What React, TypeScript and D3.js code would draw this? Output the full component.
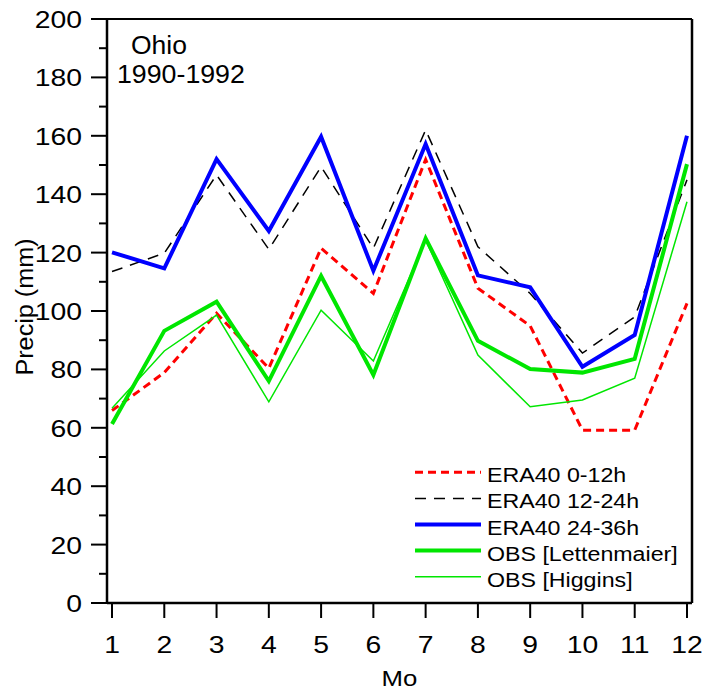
import React from "react";
import * as d3 from "d3";

const months = [1, 2, 3, 4, 5, 6, 7, 8, 9, 10, 11, 12];
const era0to12 = [65.9, 78.9, 99.2, 80.4, 121.5, 106, 151.9, 107.8, 94.9, 59.2, 59.2, 102.6];
const era12to24 = [113.5, 119.8, 146.6, 121.1, 149.4, 121.5, 162, 122, 106, 85.6, 98, 144.9];
const era24to36 = [120.1, 114.6, 152, 127.4, 159.7, 113.8, 157.2, 112.2, 108.1, 80.9, 91.8, 160];
const obsLettenmaier = [61.3, 93.2, 103.2, 76, 112, 78.1, 124.9, 89.8, 80.1, 78.9, 83.6, 150.3];
const obsHiggins = [66.7, 86.3, 98.6, 68.9, 100.3, 82.9, 124.3, 84.9, 67.2, 69.5, 77, 137.4];
const yMajorTicks = [0, 20, 40, 60, 80, 100, 120, 140, 160, 180, 200];
const yMinorTicks = [10, 30, 50, 70, 90, 110, 130, 150, 170, 190];
const seriesNames = ["ERA40 0-12h", "ERA40 12-24h", "ERA40 24-36h", "OBS [Lettenmaier]", "OBS [Higgins]"];

const FONT = "'Liberation Sans', Arial, Helvetica, sans-serif";

export default function App() {
  const left = 107, right = 692, top = 19, bottom = 603;
  const x = d3.scaleLinear().domain([0.904, 12.096]).range([left, right]);
  const y = d3.scaleLinear().domain([0, 200]).range([bottom, top]);
  const line = d3
    .line<number>()
    .x((_, i) => x(months[i]))
    .y((d) => y(d));

  const series = [
    { name: seriesNames[0], data: era0to12, color: "#ff0000", width: 3, dash: "8,5" },
    { name: seriesNames[1], data: era12to24, color: "#000000", width: 1.5, dash: "11,8" },
    { name: seriesNames[2], data: era24to36, color: "#0000ff", width: 4, dash: undefined },
    { name: seriesNames[3], data: obsLettenmaier, color: "#00e600", width: 4, dash: undefined },
    { name: seriesNames[4], data: obsHiggins, color: "#00e600", width: 1.5, dash: undefined },
  ];

  const legendX1 = 415, legendX2 = 481, legendTextX = 487, legendY0 = 472.3, legendStep = 26.1;

  return (
    <svg
      width={718}
      height={693}
      style={{ position: "absolute", left: 0, top: 0, background: "#fff" }}
      fontFamily={FONT}
    >
      <rect x={0} y={0} width={718} height={693} fill="#fff" />
      {/* series */}
      {series.map((s) => (
        <path
          key={s.name}
          d={line(s.data) || ""}
          fill="none"
          stroke={s.color}
          strokeWidth={s.width}
          strokeDasharray={s.dash}
          strokeLinejoin="miter"
        />
      ))}
      {/* frame */}
      <line x1={left} y1={top} x2={left} y2={bottom} stroke="#000" strokeWidth={2.5} />
      <line x1={left} y1={bottom} x2={right} y2={bottom} stroke="#000" strokeWidth={2.5} />
      <line x1={left} y1={top} x2={right} y2={top} stroke="#000" strokeWidth={2} />
      <line x1={right} y1={top} x2={right} y2={bottom} stroke="#000" strokeWidth={2.5} />
      {/* y ticks */}
      {yMajorTicks.map((t) => (
        <g key={"ym" + t}>
          <line x1={left - 16} x2={left} y1={y(t)} y2={y(t)} stroke="#000" strokeWidth={2} />
          <text
            transform={`translate(82,${y(t) + 9}) scale(1.18,1)`}
            textAnchor="end"
            fontSize={24}
            fill="#000"
          >
            {t}
          </text>
        </g>
      ))}
      {yMinorTicks.map((t) => (
        <line key={"yn" + t} x1={left - 8} x2={left} y1={y(t)} y2={y(t)} stroke="#000" strokeWidth={2} />
      ))}
      {/* x ticks */}
      {months.map((m) => (
        <g key={"x" + m}>
          <line x1={x(m)} x2={x(m)} y1={bottom} y2={bottom + 15} stroke="#000" strokeWidth={2} />
          <text
            transform={`translate(${x(m)},653) scale(1.18,1)`}
            textAnchor="middle"
            fontSize={24}
            fill="#000"
          >
            {m}
          </text>
        </g>
      ))}
      {/* axis titles */}
      <text
        transform={`translate(399.5,686) scale(1.12,1)`}
        textAnchor="middle"
        fontSize={23}
        fill="#000"
      >
        Mo
      </text>
      <text
        transform={`translate(33,307) rotate(-90) scale(1.05,1)`}
        textAnchor="middle"
        fontSize={24}
        fill="#000"
      >
        Precip (mm)
      </text>
      {/* annotation */}
      <text transform="translate(131,54) scale(1.06,1)" fontSize={25} fill="#000">
        Ohio
      </text>
      <text transform="translate(117,83) scale(1.07,1)" fontSize={25} fill="#000">
        1990-1992
      </text>
      {/* legend */}
      {series.map((s, i) => {
        const ly = legendY0 + i * legendStep;
        return (
          <g key={"lg" + s.name}>
            <line
              x1={legendX1}
              x2={legendX2}
              y1={ly}
              y2={ly}
              stroke={s.color}
              strokeWidth={s.width}
              strokeDasharray={s.dash}
            />
            <text
              transform={`translate(${legendTextX},${ly + 10}) scale(1.16,1)`}
              fontSize={20}
              fill="#000"
            >
              {s.name}
            </text>
          </g>
        );
      })}
    </svg>
  );
}
